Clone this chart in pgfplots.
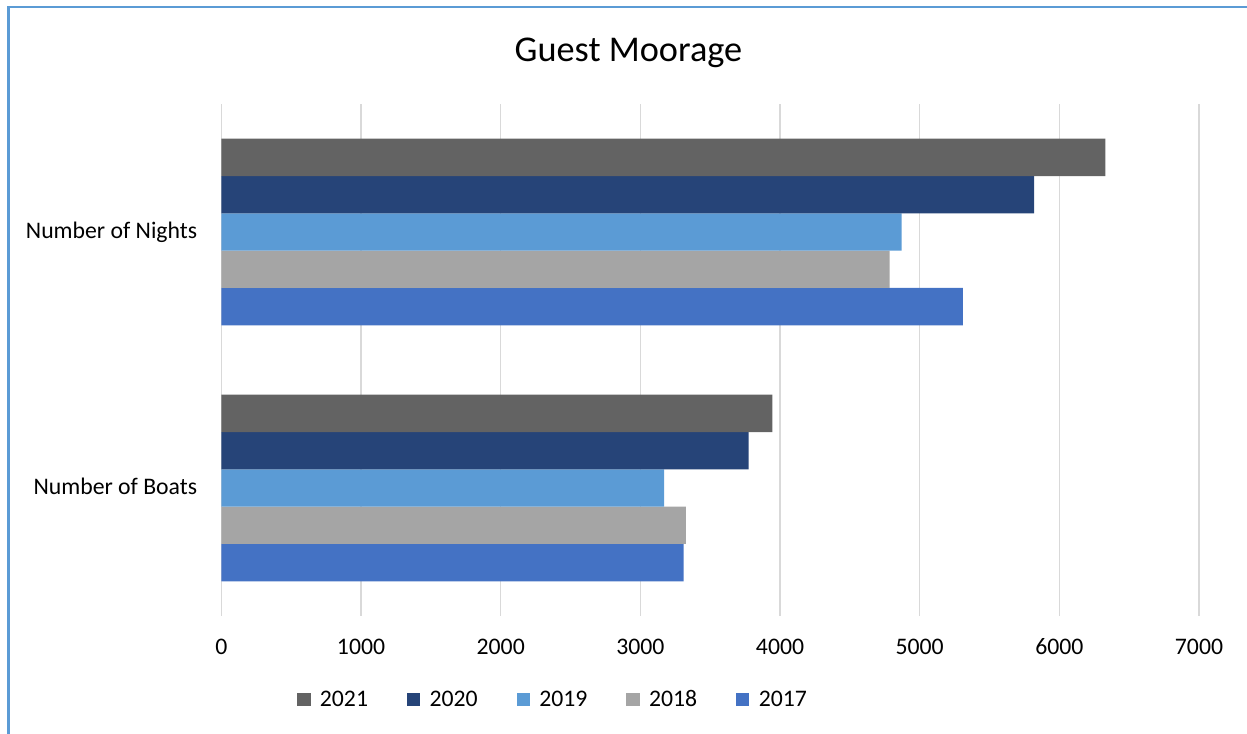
\documentclass[border=0pt]{standalone}
\usepackage{fontspec}
\setmainfont{Carlito}
\usepackage{pgfplots}
\pgfplotsset{compat=1.18}
\definecolor{c21}{HTML}{636363}
\definecolor{c20}{HTML}{264478}
\definecolor{c19}{HTML}{5B9BD5}
\definecolor{c18}{HTML}{A5A5A5}
\definecolor{c17}{HTML}{4472C4}
\definecolor{framec}{HTML}{5B9BD5}
\definecolor{gridc}{HTML}{D9D9D9}
\begin{document}
\begin{tikzpicture}
\useasboundingbox (0,0) rectangle (935.25pt,550.5pt);
\draw[framec, line width=1.9pt] (6.2pt,-20pt) -- (6.2pt,545.3pt) -- (960pt,545.3pt);
\begin{axis}[
  at={(166.05pt,88.5pt)}, anchor=south west,
  scale only axis, width=733.2pt, height=384pt,
  xbar=0pt, bar width=27.98pt,
  xmin=0, xmax=7000, ymin=-0.5, ymax=1.5,
  ytick={0,1}, yticklabels={Number of Boats,Number of Nights},
  xtick={0,1000,2000,3000,4000,5000,6000,7000},
  scaled x ticks=false,
  /pgf/number format/1000 sep={},
  /pgf/number format/assume math mode=true,
  axis line style={draw=none},
  major tick length=0pt,
  xmajorgrids, grid style={gridc, line width=1.1pt},
  tick label style={font=\fontsize{17.8}{21}\selectfont, text=black},
  xticklabel style={anchor=base, yshift=-29.25pt},
  yticklabel style={anchor=base east, inner sep=0pt, xshift=-18pt, yshift=-4.7pt},
  title={Guest Moorage},
  title style={at={(0.4164,1.067)}, anchor=base, font=\fontsize{27.2}{32}\selectfont},
  legend columns=5, reverse legend,
  legend style={at={(0.0773,-0.163)}, anchor=west, draw=none, fill=none, inner sep=0pt,
    font=\fontsize{17.8}{21}\selectfont,
    /tikz/every odd column/.append style={column sep=5pt},
    /tikz/every even column/.append style={column sep=27.2pt}},
  legend image code/.code={\fill[#1] (0pt,-5pt) rectangle (10pt,5pt);},
]
\addplot[fill=c17, draw=none] coordinates {(3310,0) (5310,1)};
\addlegendentry{2017}
\addplot[fill=c18, draw=none] coordinates {(3325,0) (4785,1)};
\addlegendentry{2018}
\addplot[fill=c19, draw=none] coordinates {(3170,0) (4870,1)};
\addlegendentry{2019}
\addplot[fill=c20, draw=none] coordinates {(3775,0) (5820,1)};
\addlegendentry{2020}
\addplot[fill=c21, draw=none] coordinates {(3945,0) (6330,1)};
\addlegendentry{2021}
\end{axis}
\end{tikzpicture}
\end{document}
